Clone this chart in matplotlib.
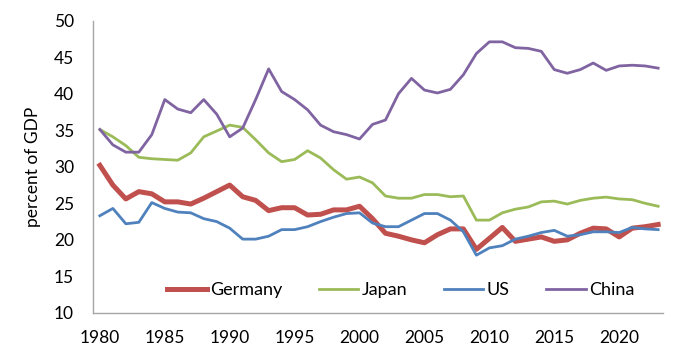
import matplotlib.pyplot as plt
import numpy as np

plt.rcParams['font.family'] = ['Lato', 'DejaVu Sans']

years = np.arange(1980, 2024)

germany = [30.2, 27.5, 25.6, 26.6, 26.3, 25.2, 25.2, 24.9, 25.7, 26.6,
           27.5, 25.9, 25.4, 24.0, 24.4, 24.4, 23.4, 23.5, 24.1, 24.1,
           24.6, 22.9, 20.9, 20.5, 20.0, 19.6, 20.7, 21.5, 21.5, 18.7,
           20.2, 21.7, 19.8, 20.1, 20.4, 19.8, 20.0, 20.9, 21.6, 21.5,
           20.4, 21.6, 21.8, 22.1]
japan = [35.1, 34.1, 32.9, 31.3, 31.1, 31.0, 30.9, 31.9, 34.1, 34.9,
         35.7, 35.4, 33.7, 31.9, 30.7, 31.0, 32.2, 31.2, 29.6, 28.3,
         28.6, 27.8, 26.0, 25.7, 25.7, 26.2, 26.2, 25.9, 26.0, 22.7,
         22.7, 23.7, 24.2, 24.5, 25.2, 25.3, 24.9, 25.4, 25.7, 25.85,
         25.6, 25.5, 25.0, 24.6]
us = [23.3, 24.3, 22.2, 22.4, 25.1, 24.3, 23.8, 23.7, 22.9, 22.5,
      21.6, 20.1, 20.1, 20.5, 21.4, 21.4, 21.8, 22.5, 23.1, 23.6,
      23.7, 22.3, 21.8, 21.8, 22.7, 23.6, 23.6, 22.7, 21.1, 17.9,
      18.9, 19.2, 20.1, 20.5, 21.0, 21.3, 20.5, 20.7, 21.1, 21.1,
      21.0, 21.7, 21.5, 21.4]
china = [35.1, 33.0, 32.0, 32.0, 34.4, 39.2, 37.9, 37.4, 39.2, 37.2,
         34.1, 35.3, 39.2, 43.4, 40.3, 39.2, 37.8, 35.7, 34.8, 34.4,
         33.8, 35.8, 36.4, 40.0, 42.1, 40.5, 40.1, 40.6, 42.6, 45.5,
         47.1, 47.1, 46.3, 46.2, 45.8, 43.3, 42.8, 43.3, 44.2, 43.2,
         43.8, 43.9, 43.8, 43.5]

fig = plt.figure(figsize=(6.93, 3.56), dpi=100)
ax = fig.add_axes([0.134, 0.121, 0.823, 0.821])

ax.plot(years, germany, color='#C0504D', lw=3.6, label='Germany')
ax.plot(years, japan, color='#9BBB59', lw=2.0, label='Japan')
ax.plot(years, us, color='#4F81BD', lw=2.0, label='US')
ax.plot(years, china, color='#8064A2', lw=2.0, label='China')

ax.set_ylim(10, 50)
ax.set_yticks(range(10, 51, 5))
ax.set_xlim(1979.46, 2023.39)
ax.set_xticks(range(1980, 2021, 5))
ax.tick_params(length=0, labelsize=12.5, colors='black')
ax.tick_params(axis='y', pad=13.5)
ax.tick_params(axis='x', pad=12)

for side in ['top', 'right']:
    ax.spines[side].set_visible(False)
for side in ['left', 'bottom']:
    ax.spines[side].set_color('#A6A6A6')
    ax.spines[side].set_linewidth(1.0)

ax.set_ylabel('percent of GDP', fontsize=12.5, labelpad=9)

ax.legend(loc='center', bbox_to_anchor=(0.54, 0.079), ncol=4, frameon=False,
          fontsize=13, handlelength=2.2, columnspacing=2.0, handletextpad=0.2)

fig.savefig('out.png', dpi=100)
